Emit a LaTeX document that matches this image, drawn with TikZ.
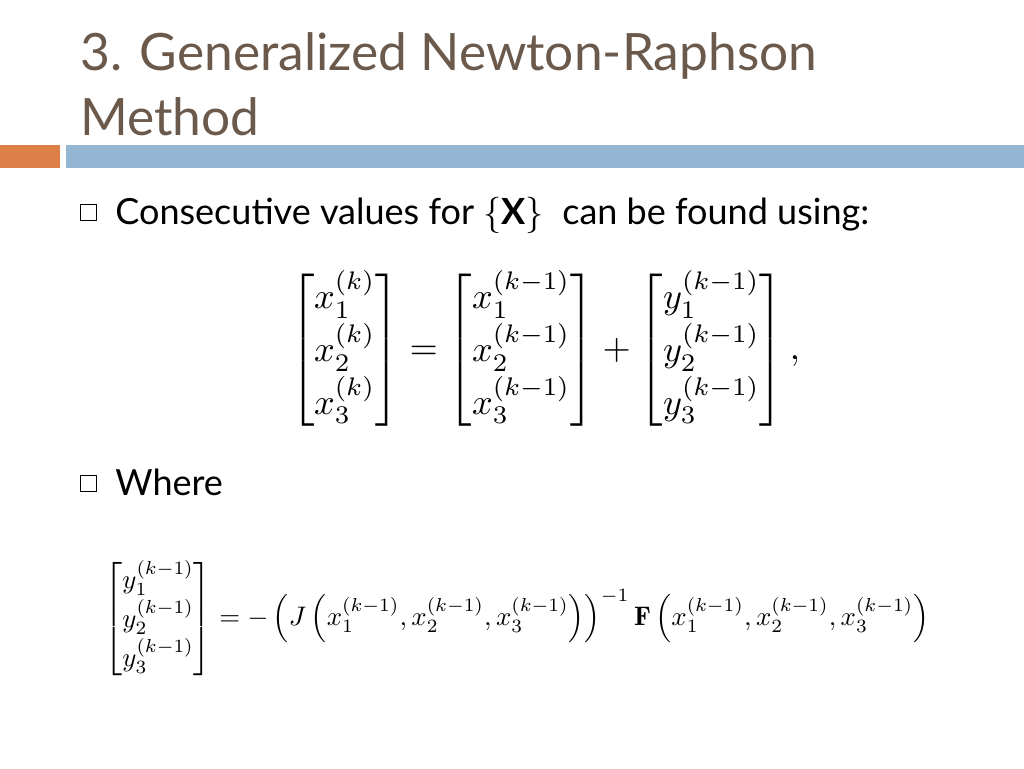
\documentclass[tikz,border=0pt]{standalone}
\usepackage{amsmath}
\usepackage{graphicx}
\usepackage{fontspec}
\newfontfamily\slidefont{Lato}
\definecolor{titlec}{HTML}{6B5A4C}
\definecolor{orangec}{HTML}{DD8047}
\definecolor{bluec}{HTML}{94B6D2}
\tikzset{ttl/.style={anchor=base west,inner sep=0,text=titlec,font=\slidefont\fontsize{29.3}{36}\selectfont},
 body/.style={anchor=base west,inner sep=0,font=\slidefont\fontsize{20.5}{24}\selectfont},
 bul/.style={draw=black,line width=0.5pt,minimum size=0.32cm,inner sep=0}}
\renewcommand{\arraystretch}{1.15}
\begin{document}
\begin{tikzpicture}[x=0.02cm,y=-0.02cm]
\useasboundingbox (0,0) rectangle (1024,768);
\node[ttl] (t1) at (80,70) {3. Generalized Newton-Raphson};
\node[ttl] (t2) at (80,135) {Method};
\fill[orangec] (0,145) rectangle (60,168);
\fill[bluec] (66,145) rectangle (1024,168);
\node[bul] (b1) at (88.5,212) {};
\node[body] (l1) at (115,224) {Consecutive values for $\{$\textbf{X}$\}$\ \ can be found using:};
\node[bul] (b2) at (88.5,483) {};
\node[body] (l2) at (115,495) {Where};
\node[inner sep=0] (e1) at (545,350) {\resizebox{10.2cm}{!}{$\begin{bmatrix}x_1^{(k)}\\x_2^{(k)}\\x_3^{(k)}\end{bmatrix}=\begin{bmatrix}x_1^{(k-1)}\\x_2^{(k-1)}\\x_3^{(k-1)}\end{bmatrix}+\begin{bmatrix}y_1^{(k-1)}\\y_2^{(k-1)}\\y_3^{(k-1)}\end{bmatrix},$}};
\node[inner sep=0] (e2) at (517,619) {\resizebox{16.5cm}{!}{$\begin{bmatrix}y_1^{(k-1)}\\y_2^{(k-1)}\\y_3^{(k-1)}\end{bmatrix}=-\left(J\left(x_1^{(k-1)},x_2^{(k-1)},x_3^{(k-1)}\right)\right)^{-1}\mathbf{F}\left(x_1^{(k-1)},x_2^{(k-1)},x_3^{(k-1)}\right)$}};
\end{tikzpicture}
\end{document}
